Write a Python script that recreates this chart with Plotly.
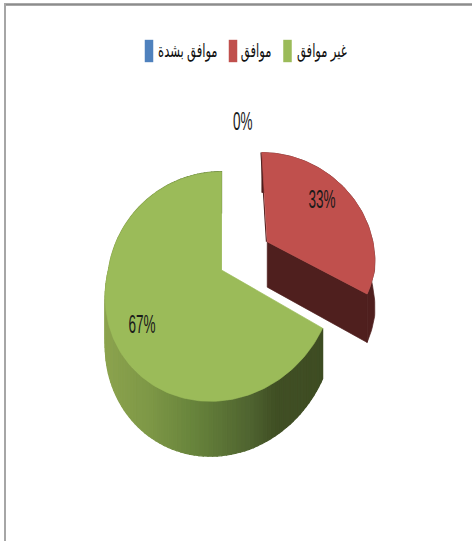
import numpy as np
import plotly.graph_objects as go

# ---- data ----
categories = ["موافق", "غير موافق", "موافق بشدة"]
values = [33, 67, 0]
labels = ["33%", "67%", "0%"]

# ---- style ----
top_colors = ["#c0504d", "#9bbb59", "#4f81bd"]
dark_red = "#4f1f1e"
explode = [(0.42, 0.26), (0.0, 0.0), (0.0, 0.0)]
slice_radius = [0.97, 1.0, 1.0]
label_radius = [0.68, 0.78, 1.6]
label_xshift = [-4, 5, 21]
label_yshift = [8, -7, 3]
legend_marker_x = [233, 287.5, 149]
legend_text_x = [255.5, 322, 187.5]
legend_y = 51
FONT = "Liberation Sans, DejaVu Sans, sans-serif"
W, H = 472, 541
AX, AY = 221.5, 270.0   # pie apex on the page
A, B, P = 113.0, 112.4, 0.144  # projection of the tilted disc
SHEAR = 11.0
DEPTH = 47.0
side_stops = [(105, (140, 163, 78)), (150, (125, 151, 70)), (200, (100, 128, 58)),
              (250, (79, 99, 48)), (275, (64, 79, 36)), (330, (62, 76, 35))]


def project(X, Y, drop=0.0):
    X = np.asarray(X, dtype=float)
    Y = np.asarray(Y, dtype=float)
    w = 1 + P * Y
    sx = AX + A * X / w + SHEAR * np.minimum(Y, 0)
    sy = AY - B * Y / w + drop / w
    return sx, sy


def disc(theta_deg, radius, off):
    t = np.radians(theta_deg)
    return off[0] + radius * np.sin(t), off[1] + radius * np.cos(t)


def side_color(x):
    xs = [s[0] for s in side_stops]
    rgb = [np.interp(x, xs, [s[1][i] for s in side_stops]) for i in range(3)]
    return "rgb(%d,%d,%d)" % tuple(int(round(c)) for c in rgb)


def poly(xs, ys, color, width=0.7):
    return go.Scatter(x=list(xs), y=list(ys), mode="lines", fill="toself", fillcolor=color,
                      line=dict(color=color, width=width), hoverinfo="skip", showlegend=False)


# slice angles from the values
total = sum(values)
bounds = np.concatenate([[0.0], np.cumsum(values) / total * 360.0])
traces = []

# green (second slice): curved wall made of strips, then cut edge and top face
g0, g1 = bounds[1], bounds[2]
off = explode[1]
R = slice_radius[1]
edges = np.linspace(g0, g1, 121)
for a, b in zip(edges[:-1], edges[1:]):
    Xa, Ya = disc(a, R, off)
    Xb, Yb = disc(b, R, off)
    xt, yt = project([Xa, Xb], [Ya, Yb])
    xb, yb = project([Xb, Xa], [Yb, Ya], DEPTH)
    if max(yb) <= max(yt):
        continue
    traces.append(poly(np.r_[xt, xb, xt[0]], np.r_[yt, yb, yt[0]], side_color((xt[0] + xt[1]) / 2), 1.3))
th = np.linspace(g0, g1, 200)
X, Y = disc(th, R, off)
xt, yt = project(X, Y)
ax0, ay0 = project(off[0], off[1])
ax0, ay0 = float(ax0), float(ay0)
traces.append(go.Scatter(x=[xt[-1] - 0.8, ax0 - 0.8], y=[yt[-1], ay0], mode="lines",
                         line=dict(color="#5f7a35", width=1.2), hoverinfo="skip", showlegend=False))
traces.append(poly(np.r_[ax0, xt, ax0], np.r_[ay0, yt, ay0], top_colors[1]))

# red (first slice, exploded): walls then top face
r0, r1 = bounds[0], bounds[1]
off = explode[0]
R = slice_radius[0]
th = np.linspace(r0, r1, 80)
X, Y = disc(th, R, off)
xt, yt = project(X, Y)
xb, yb = project(X, Y, DEPTH)
ax0, ay0 = project(off[0], off[1])
ax1, ay1 = project(off[0], off[1], DEPTH)
ax0, ay0, ax1, ay1 = float(ax0), float(ay0), float(ax1), float(ay1)
traces.append(poly(np.r_[xt, xb[::-1], xt[0]], np.r_[yt, yb[::-1], yt[0]], dark_red))
traces.append(poly([ax0, xt[-1], xb[-1], ax1, ax0], [ay0, yt[-1], yb[-1], ay1, ay0], dark_red))
traces.append(go.Scatter(x=[xt[0] - 0.8, ax0 - 0.8], y=[yt[0], ay0], mode="lines",
                         line=dict(color=dark_red, width=1.2), hoverinfo="skip", showlegend=False))
traces.append(poly(np.r_[ax0, xt, ax0], np.r_[ay0, yt, ay0], top_colors[0]))

# legend keys: tall, narrow swatches like the reference
traces.append(go.Scatter(x=legend_marker_x, y=[legend_y] * len(categories), mode="markers",
                         marker=dict(symbol="line-ns", size=16,
                                     line=dict(color=top_colors, width=8.5)),
                         hoverinfo="skip", showlegend=False))

fig = go.Figure(traces)

# percentage labels and legend texts
annotations = []
for i, txt in enumerate(labels):
    mid = (bounds[i] + bounds[i + 1]) / 2
    X, Y = disc(mid, label_radius[i], explode[i])
    sx, sy = project(X, Y)
    annotations.append(dict(x=float(sx), y=float(sy), xref="x", yref="y", text=txt, showarrow=False,
                            xshift=label_xshift[i], yshift=label_yshift[i],
                            font=dict(family=FONT, size=26, color="#1a1a1a")))
for i, name in enumerate(categories):
    annotations.append(dict(x=legend_text_x[i], y=legend_y, xref="x", yref="y", text=name, showarrow=False,
                            font=dict(family=FONT, size=19, color="#111111")))

fig.update_layout(
    width=W, height=H, autosize=False,
    margin=dict(l=0, r=0, t=0, b=0),
    paper_bgcolor="white", plot_bgcolor="white",
    xaxis=dict(range=[0, W], visible=False, fixedrange=True),
    yaxis=dict(range=[H, 0], visible=False, fixedrange=True),
    showlegend=False,
    annotations=annotations,
    shapes=[
        dict(type="line", xref="x", yref="y", x0=4, x1=W, y0=4.5, y1=4.5, line=dict(color="#8c8c8c", width=2.5)),
        dict(type="line", xref="x", yref="y", x0=5, x1=5, y0=4, y1=H, line=dict(color="#a6a6a6", width=2)),
    ],
)

# the reference's text is horizontally condensed; no condensed face is installed
post = """
document.body.style.margin = '0';
document.querySelectorAll('.annotation-text').forEach(function (t) {
  var x = parseFloat(t.getAttribute('x')) || 0;
  var s = t.textContent.indexOf('%') >= 0 ? 0.52 : 0.61;
  t.setAttribute('transform', 'translate(' + x + ',0) scale(' + s + ',1) translate(' + (-x) + ',0)');
});
"""
fig.write_html("out.html", config={"displayModeBar": False}, post_script=post)
